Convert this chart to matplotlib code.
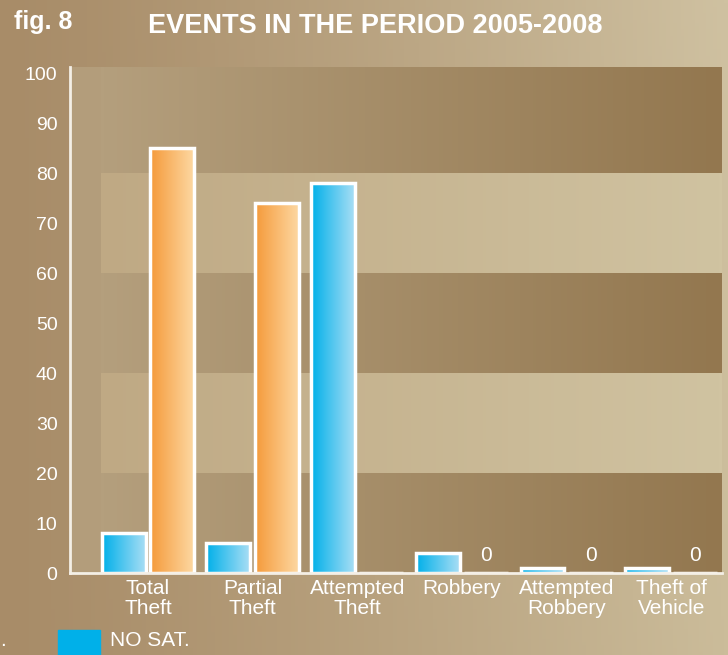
import numpy as np
import matplotlib
matplotlib.use("Agg")
import matplotlib.pyplot as plt
from matplotlib.colors import to_rgb

categories = ["Total\nTheft", "Partial\nTheft", "Attempted\nTheft", "Robbery", "Attempted\nRobbery", "Theft of\nVehicle"]
no_sat = [8, 6, 78, 4, 1, 1]
sat = [85, 74, 0, 0, 0, 0]
sat_labels = ["", "", "", "0", "0", "0"]
yticks = [0, 10, 20, 30, 40, 50, 60, 70, 80, 90, 100]

FONT = ["Liberation Sans Narrow", "Liberation Sans", "DejaVu Sans"]
plt.rcParams["font.family"] = FONT

W, H = 728, 655
fig = plt.figure(figsize=(W / 100, H / 100), dpi=100)

# figure background gradient
bg = fig.add_axes([0, 0, 1, 1], zorder=-10)
bg.set_axis_off()
nx, ny = 200, 200
gx = np.linspace(0, 1, nx)[None, :]
gy = np.linspace(0, 1, ny)[:, None]  # 0 top -> 1 bottom
left_c = np.array(to_rgb("#a88c68"))
right_top = np.array(to_rgb("#cfc1a1"))
right_bot = np.array(to_rgb("#cbbc9a"))
t = gx ** 1.2
right_c = right_top[None, None, :] * (1 - gy[..., None]) + right_bot[None, None, :] * gy[..., None]
img = left_c[None, None, :] * (1 - t[..., None]) + right_c * t[..., None]
bg.imshow(img, extent=(0, 1, 0, 1), aspect="auto", origin="upper")
bg.set_xlim(0, 1)
bg.set_ylim(0, 1)

ax = fig.add_axes([70 / W, 1 - 573 / H, (722 - 70) / W, (573 - 67) / H])
x = np.arange(len(categories))
xlim = (-0.744, 5.485)
ylim = (0, 101.2)
ax.set_xlim(*xlim)
ax.set_ylim(*ylim)

# plot area background: left strip + horizontal bands with gradient
ax.add_patch(plt.Rectangle((xlim[0], 0), 0.3, ylim[1], color="#b39d7b", zorder=0, lw=0))
band_x0 = xlim[0] + 0.3
dark_l, dark_r = np.array(to_rgb("#b49f7d")), np.array(to_rgb("#93774f"))
light_l, light_r = np.array(to_rgb("#bfa984")), np.array(to_rgb("#d0c3a1"))
for k in range(5):
    y0 = k * 20
    y1 = y0 + 20 if k < 4 else ylim[1]
    dl, dr = (dark_l, dark_r) if k % 2 == 0 else (light_l, light_r)
    tt = np.linspace(0, 1, 200)[None, :, None]
    band = dl[None, None, :] * (1 - tt) + dr[None, None, :] * tt
    ax.imshow(band, extent=(band_x0, xlim[1], y0, y1), aspect="auto", zorder=0.5, origin="upper")
ax.set_xlim(*xlim)
ax.set_ylim(*ylim)
ax.patch.set_alpha(0)

bw = 0.42
off = 0.23
blue_bars = ax.bar(x - off, no_sat, bw, color="none", edgecolor="white", lw=2.5, zorder=3)
orange_bars = ax.bar(x + off, sat, bw, color="none", edgecolor="white", lw=2.5, zorder=3)


def fill_grad(bars, c0, c1):
    c0, c1 = np.array(to_rgb(c0)), np.array(to_rgb(c1))
    tt = np.linspace(0, 1, 100)[None, :, None]
    g = c0[None, None, :] * (1 - tt) + c1[None, None, :] * tt
    for p in bars:
        h = p.get_height()
        if h <= 0:
            continue
        im = ax.imshow(g, extent=(p.get_x(), p.get_x() + p.get_width(), 0, h),
                       aspect="auto", zorder=2.5, origin="upper")
        im.set_clip_path(p)
    ax.set_xlim(*xlim)
    ax.set_ylim(*ylim)


fill_grad(blue_bars, "#00b0e9", "#a9def5")
fill_grad(orange_bars, "#f59a3a", "#fdd8a2")

for i, lab in enumerate(sat_labels):
    if lab:
        ax.text(x[i] + off, 1.6, lab, ha="center", va="bottom", color="white", fontsize=15)

for s in ["top", "right"]:
    ax.spines[s].set_visible(False)
for s in ["left", "bottom"]:
    ax.spines[s].set_color("#f4efe6")
    ax.spines[s].set_linewidth(2)
    ax.spines[s].set_zorder(4)

ax.set_yticks(yticks)
ax.set_yticklabels([str(v) for v in yticks])
ax.set_xticks(x)
ax.set_xticklabels(categories, linespacing=1.1)
ax.tick_params(axis="y", length=0, pad=9, labelsize=14, labelcolor="white")
ax.tick_params(axis="x", length=0, pad=4, labelsize=15, labelcolor="white")

fig.text(14 / W, 1 - 22 / H, "fig. 8", color="white", fontsize=18, fontweight="bold",
         ha="left", va="center")
fig.text(148 / W, 1 - 26 / H, "EVENTS IN THE PERIOD 2005-2008", color="white", fontsize=19.5,
         fontweight="bold", ha="left", va="center")

# legend
fig.patches.append(plt.Rectangle((58 / W, 0), 42 / W, 25 / H, transform=fig.transFigure,
                                 color="#00b0e9", zorder=5))
fig.text(110 / W, 1 - 640 / H, "NO SAT.", color="white", fontsize=15, ha="left", va="center")
fig.text(0.5 / W, 1 - 640 / H, ".", color="white", fontsize=15, ha="left", va="center")

fig.savefig("out.png", dpi=100)
